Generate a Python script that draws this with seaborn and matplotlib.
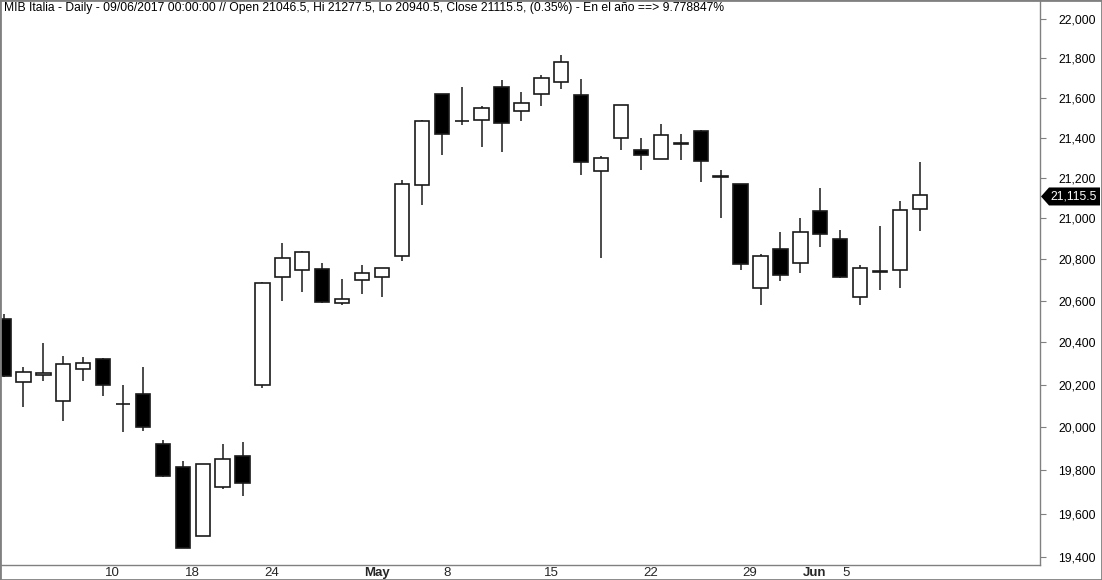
import numpy as np
import pandas as pd
import matplotlib
matplotlib.use("Agg")
import matplotlib.pyplot as plt
import seaborn as sns
from matplotlib.patches import Polygon, Rectangle
from matplotlib.ticker import FixedLocator, FuncFormatter, NullLocator
from matplotlib.transforms import IdentityTransform

# ---------------- data ----------------
dates = ["2017-04-03", "2017-04-04", "2017-04-05", "2017-04-06", "2017-04-07",
         "2017-04-10", "2017-04-11", "2017-04-12", "2017-04-13", "2017-04-18",
         "2017-04-19", "2017-04-20", "2017-04-21", "2017-04-24", "2017-04-25",
         "2017-04-26", "2017-04-27", "2017-04-28", "2017-05-02", "2017-05-03",
         "2017-05-04", "2017-05-05", "2017-05-08", "2017-05-09", "2017-05-10",
         "2017-05-11", "2017-05-12", "2017-05-15", "2017-05-16", "2017-05-17",
         "2017-05-18", "2017-05-19", "2017-05-22", "2017-05-23", "2017-05-24",
         "2017-05-25", "2017-05-26", "2017-05-29", "2017-05-30", "2017-05-31",
         "2017-06-01", "2017-06-02", "2017-06-05", "2017-06-06", "2017-06-07",
         "2017-06-08", "2017-06-09"]
opens = [20513, 20211, 20245, 20122, 20273, 20322, 20108, 20155, 19922, 19815,
         19497, 19721, 19866, 20197, 20716, 20747, 20752, 20588, 20699, 20714,
         20815, 21164, 21620, 21484, 21488, 21656, 21533, 21619, 21680, 21615,
         21233, 21398, 21338, 21293, 21372, 21434, 21208, 21170, 20660, 20851,
         20781, 21037, 20900, 20617, 20745, 20747, 21046.5]
highs = [20537, 20285, 20398, 20336, 20333, 20325, 20199, 20284, 19940, 19843,
         19827, 19922, 19931, 20690, 20880, 20840, 20781, 20705, 20773, 20760,
         21190, 21489, 21622, 21656, 21560, 21691, 21630, 21717, 21818, 21696,
         21308, 21565, 21398, 21470, 21419, 21439, 21240, 21172, 20825, 20934,
         21002, 21151, 20944, 20772, 20963, 21086, 21277.5]
lows = [20236, 20096, 20219, 20031, 20219, 20144, 19979, 19984, 19770, 19442,
        19497, 19715, 19683, 20184, 20600, 20644, 20590, 20581, 20634, 20620,
        20794, 21068, 21316, 21466, 21356, 21331, 21486, 21561, 21647, 21216,
        20808, 21341, 21241, 21293, 21291, 21182, 21004, 20748, 20577, 20697,
        20736, 20862, 20712, 20581, 20654, 20663, 20940.5]
closes = [20241, 20259, 20254, 20297, 20301, 20200, 20108, 20002, 19775, 19445,
          19827, 19851, 19743, 20685, 20805, 20835, 20596, 20607, 20733, 20757,
          21169, 21484, 21421, 21482, 21548, 21476, 21573, 21700, 21781, 21281,
          21298, 21563, 21316, 21413, 21370, 21286, 21204, 20779, 20815, 20726,
          20933, 20926, 20716, 20757, 20737, 21040, 21115.5]

ytick_values = [19400, 19600, 19800, 20000, 20200, 20400, 20600, 20800,
                21000, 21200, 21400, 21600, 21800, 22000]
xtick_dates = ["2017-04-10", "2017-04-18", "2017-04-24", "2017-05-02", "2017-05-08",
               "2017-05-15", "2017-05-22", "2017-05-29", "2017-06-01", "2017-06-05"]
xtick_labels = ["10", "18", "24", "May", "8", "15", "22", "29", "Jun", "5"]

title = ("MIB Italia - Daily - 09/06/2017 00:00:00 // Open 21046.5, Hi 21277.5, "
         "Lo 20940.5, Close 21115.5, (0.35%) - En el año ==> 9.778847%")

df = pd.DataFrame({"date": dates, "open": opens, "high": highs,
                   "low": lows, "close": closes})

# ---------------- style ----------------
sns.set_theme(style="white")
plt.rcParams["font.family"] = ["Liberation Sans", "DejaVu Sans"]

W, H = 1102, 580
fig = plt.figure(figsize=(W / 100, H / 100), dpi=100)
fig.patch.set_facecolor("white")
ax = fig.add_axes([0 / W, 15 / H, 1040 / W, 565 / H])
ax.set_facecolor("white")

x = np.arange(len(df))
up = (df["close"] >= df["open"]).to_numpy()
body_bottom = np.minimum(df["open"], df["close"])
body_height = np.abs(df["close"] - df["open"])

ax.vlines(x, df["low"], df["high"], color="#1a1a1a", lw=1.1, zorder=2)
ax.bar(x, body_height, bottom=body_bottom, width=0.72,
       color=np.where(up, "white", "black"), edgecolor="#1a1a1a",
       linewidth=1.2, zorder=3)

ax.set_yscale("log")
ax.set_ylim(19366, 22100)
ax.set_xlim(-0.176, 52.03)

ax.yaxis.set_major_locator(FixedLocator(ytick_values))
ax.yaxis.set_minor_locator(NullLocator())
ax.yaxis.set_major_formatter(FuncFormatter(lambda v, p: f"{v:,.0f}"))
ax.yaxis.tick_right()
ax.tick_params(axis="y", which="major", direction="out", length=4, width=0.8,
               color="#808080", pad=9, labelsize=8.7, labelcolor="black")

date_index = {d: i for i, d in enumerate(dates)}
tick_pos = [date_index[d] for d in xtick_dates]
ax.xaxis.set_major_locator(FixedLocator(tick_pos))
ax.xaxis.set_minor_locator(NullLocator())
ax.set_xticklabels([])
ax.tick_params(axis="x", which="major", direction="out", length=3.5, width=0.8,
               color="#808080")
for pos, lab in zip(tick_pos, xtick_labels):
    ax.annotate(lab, xy=(pos, 0), xycoords=("data", "axes fraction"),
                xytext=(1.5, -1.2), textcoords="offset points",
                ha="left", va="top", fontsize=9.5,
                family=["Liberation Sans Narrow", "Liberation Sans"],
                fontweight="normal" if lab.isdigit() else "bold",
                annotation_clip=False)

for s in ["left", "top"]:
    ax.spines[s].set_visible(False)
for s in ["right", "bottom"]:
    ax.spines[s].set_color("#808080")
    ax.spines[s].set_linewidth(1.0)
ax.grid(False)

# figure border
fig.add_artist(Rectangle((0, 0), 1, 1, transform=fig.transFigure, fill=False,
                         edgecolor="#808080", lw=2.0, zorder=10))

# title
fig.text(4 / W, 1 - 8 / H, title, ha="left", va="center", fontsize=8.75,
         color="black")

# last price tag
last = closes[-1]
xr = ax.transAxes.transform((1, 0))[0]
yp = ax.transData.transform((0, last))[1] - 1.5
tag = Polygon([(xr + 1, yp), (xr + 9, yp + 9), (xr + 60, yp + 9),
               (xr + 60, yp - 9), (xr + 9, yp - 9)], closed=True,
              transform=IdentityTransform(), facecolor="black",
              edgecolor="black", lw=0)
fig.add_artist(tag)
fig.text(xr + 10, yp, f"{last:,.1f}", transform=IdentityTransform(),
         ha="left", va="center", color="white", fontsize=8.7)

fig.savefig("out.png", dpi=100, facecolor="white")
